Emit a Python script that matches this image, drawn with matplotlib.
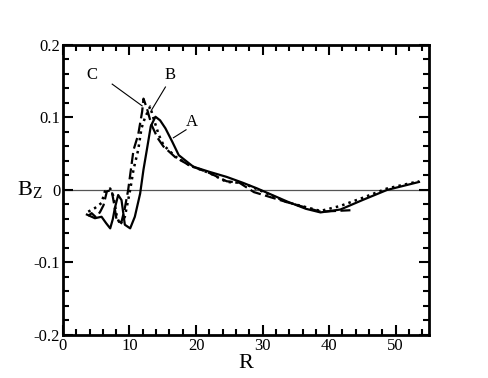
import numpy as np
import matplotlib.pyplot as plt
from matplotlib.ticker import MultipleLocator

plt.rcParams['font.family'] = ['Liberation Serif', 'DejaVu Serif']

# Curve A (solid)
r_a = [3.6, 4.8, 5.8, 6.5, 7.1, 7.5, 7.8, 8.3, 8.8, 9.3, 10.1, 10.8, 11.6,
       12.1, 12.6, 13.2, 13.9, 14.6, 15.4, 16.4, 17.4, 18.9, 19.6, 22.0,
       24.6, 27.0, 29.2, 33.7, 36.5, 38.7, 41.7, 45.0, 48.7, 53.5]
bz_a = [-0.034, -0.039, -0.037, -0.046, -0.053, -0.040, -0.025, -0.007,
        -0.014, -0.048, -0.053, -0.037, -0.005, 0.028, 0.055, 0.088, 0.101,
        0.096, 0.085, 0.067, 0.048, 0.037, 0.032, 0.025, 0.018, 0.010, 0.002,
        -0.016, -0.026, -0.031, -0.027, -0.014, 0.0, 0.011]

# Curve B (dotted)
r_b = [3.8, 4.8, 5.8, 6.3, 7.1, 7.6, 8.1, 8.6, 9.3, 10.1, 10.6, 11.3, 11.8,
       12.3, 13.1, 13.6, 14.4, 15.1, 16.9, 19.0, 22.1, 24.6, 26.5, 28.2,
       33.7, 38.7, 41.7, 45.0, 48.7, 53.5]
bz_b = [-0.030, -0.025, -0.018, -0.002, 0.002, -0.009, -0.037, -0.048,
        -0.037, 0.0, 0.028, 0.055, 0.085, 0.099, 0.115, 0.099, 0.076, 0.062,
        0.046, 0.034, 0.023, 0.011, 0.010, 0.005, -0.017, -0.029, -0.022,
        -0.011, 0.002, 0.012]

# Curve C (dashed)
r_c = [3.8, 4.3, 5.0, 5.6, 6.1, 6.6, 7.3, 7.7, 8.1, 8.8, 9.3, 9.8, 10.6,
       11.3, 11.9, 12.1, 12.6, 13.3, 14.2, 15.1, 16.9, 19.0, 22.1, 24.6,
       26.5, 28.7, 33.7, 38.7, 43.2]
bz_c = [-0.036, -0.032, -0.038, -0.030, -0.021, -0.002, 0.0, -0.020,
        -0.044, -0.044, -0.025, 0.0, 0.055, 0.076, 0.108, 0.126, 0.113,
        0.090, 0.072, 0.060, 0.045, 0.034, 0.023, 0.012, 0.010, -0.003,
        -0.017, -0.030, -0.028]

fig = plt.figure(figsize=(4.88, 3.78), dpi=100)
ax = fig.add_axes([0.129, 0.114, 0.75, 0.767])

ax.axhline(0, color='#555555', lw=0.9, zorder=1)
ax.plot(r_a, bz_a, '-', color='black', lw=1.6)
ax.plot(r_b, bz_b, ':', color='black', lw=1.8)
ax.plot(r_c, bz_c, '--', color='black', lw=1.6, dashes=(5, 2))

# labels with leader lines
ax.text(4.4, 0.159, 'C', fontsize=12, ha='center', va='center')
ax.plot([7.4, 11.9], [0.146, 0.116], color='black', lw=0.8)
ax.text(16.1, 0.159, 'B', fontsize=12, ha='center', va='center')
ax.plot([15.4, 13.3], [0.142, 0.110], color='black', lw=0.8)
ax.text(19.4, 0.094, 'A', fontsize=12, ha='center', va='center')
ax.plot([18.5, 16.6], [0.083, 0.072], color='black', lw=0.8)

ax.set_xlim(0, 55)
ax.set_ylim(-0.2, 0.2)
ax.xaxis.set_major_locator(MultipleLocator(10))
ax.xaxis.set_minor_locator(MultipleLocator(2))
ax.yaxis.set_minor_locator(MultipleLocator(0.02))
ax.set_yticks([-0.2, -0.1, 0, 0.1, 0.2])
ax.set_yticklabels(['-0.2', '-0.1', '0', '0.1', '0.2'])
ax.tick_params(which='both', direction='in', top=True, right=True,
               labelsize=12, width=1.5)
ax.tick_params(which='major', length=7, pad=2)
ax.tick_params(which='minor', length=4)
for s in ax.spines.values():
    s.set_linewidth(2)

ax.set_xlabel('R', fontsize=16, labelpad=0)
ax.set_ylabel('B$_\\mathregular{Z}$', fontsize=16, rotation=0, labelpad=3, va='center')

fig.savefig('out.png', dpi=100)
